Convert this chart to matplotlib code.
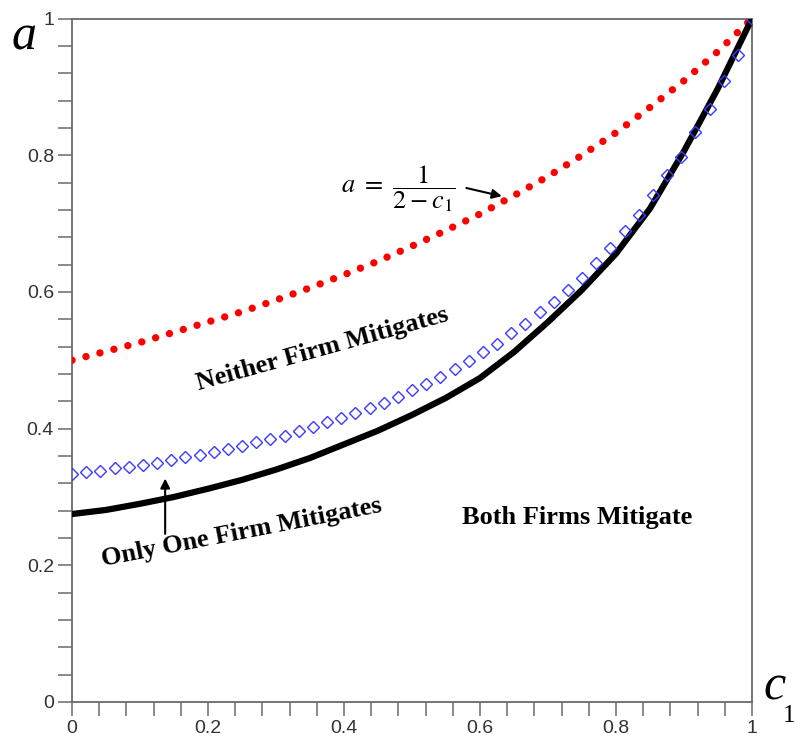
import matplotlib
matplotlib.use("Agg")
import matplotlib.pyplot as plt
import numpy as np
from matplotlib.ticker import MultipleLocator, FixedLocator

plt.rcParams['mathtext.fontset'] = 'stix'

# ---- data ----
c_red = [0.00, 0.05, 0.10, 0.15, 0.20, 0.25, 0.30, 0.35, 0.40, 0.45, 0.50,
         0.55, 0.60, 0.65, 0.70, 0.75, 0.80, 0.85, 0.90, 0.95, 1.00]
a_red = [0.500, 0.513, 0.526, 0.541, 0.556, 0.571, 0.588, 0.606, 0.625, 0.645, 0.667,
         0.690, 0.714, 0.741, 0.769, 0.800, 0.833, 0.870, 0.909, 0.952, 1.000]

c_black = [0.00, 0.05, 0.10, 0.15, 0.20, 0.25, 0.30, 0.35, 0.40, 0.45, 0.50,
           0.55, 0.60, 0.65, 0.70, 0.75, 0.80, 0.85, 0.90, 0.95, 1.00]
a_black = [0.275, 0.281, 0.290, 0.300, 0.312, 0.325, 0.340, 0.357, 0.377, 0.397, 0.420,
           0.445, 0.474, 0.512, 0.556, 0.603, 0.656, 0.722, 0.806, 0.898, 1.000]

c_blue = [i / 48 for i in range(49)]
a_blue = [0.333, 0.336, 0.338, 0.342, 0.344, 0.347, 0.350, 0.354, 0.358, 0.362,
          0.366, 0.370, 0.375, 0.380, 0.385, 0.389, 0.396, 0.402, 0.409, 0.416,
          0.423, 0.430, 0.437, 0.446, 0.456, 0.465, 0.476, 0.487, 0.499, 0.512,
          0.524, 0.540, 0.553, 0.570, 0.585, 0.603, 0.621, 0.642, 0.664, 0.689,
          0.713, 0.742, 0.771, 0.798, 0.834, 0.868, 0.908, 0.947, 1.000]

major_ticks = [0, 0.2, 0.4, 0.6, 0.8, 1]
tick_labels = ['0', '0.2', '0.4', '0.6', '0.8', '1']

W, H = 798, 755
fig = plt.figure(figsize=(W / 100, H / 100), dpi=100)
ax = fig.add_axes([72 / W, (H - 702) / H, 680 / W, (702 - 18.5) / H])

ax.plot(c_red, a_red, color='#ff0000', lw=5.3, linestyle=(0, (0.01, 1.95)),
        dash_capstyle='round', zorder=3)
ax.plot(c_black, a_black, color='black', lw=4.5, solid_capstyle='round', zorder=3)
ax.plot(c_blue, a_blue, linestyle='none', marker='D', ms=6, mfc='none',
        mec='#3a3aff', mew=1.0, zorder=4)

ax.set_xlim(0, 1)
ax.set_ylim(0, 1)

gray = '#6a6a6a'
for s in ax.spines.values():
    s.set_color(gray)
    s.set_linewidth(1.3)

ax.xaxis.set_major_locator(FixedLocator(major_ticks))
ax.yaxis.set_major_locator(FixedLocator(major_ticks))
ax.xaxis.set_minor_locator(MultipleLocator(0.04))
ax.yaxis.set_minor_locator(MultipleLocator(0.04))
ax.set_xticklabels(tick_labels)
ax.set_yticklabels(tick_labels)
ax.tick_params(which='both', direction='out', length=10, width=1.1, color=gray,
               top=False, right=False)
ax.tick_params(which='major', labelsize=14, labelcolor='#333333', pad=3)
for lab in ax.get_xticklabels() + ax.get_yticklabels():
    lab.set_family('Liberation Sans')

# axis labels
fig.text(24 / W, 1 - 50 / H, 'a', family='Liberation Serif', style='italic',
         fontsize=36, ha='center', va='baseline')
fig.text(775 / W, 1 - 700 / H, 'c', family='Liberation Serif', style='italic',
         fontsize=36, ha='center', va='baseline')
fig.text(789 / W, 1 - 722 / H, '1', family='Liberation Serif',
         fontsize=18, ha='center', va='baseline')

serif_b = dict(family='Liberation Serif', weight='bold', fontsize=19)
ax.text(0.369, 0.516, 'Neither Firm Mitigates', rotation=15.5,
        ha='center', va='center', rotation_mode='anchor', **serif_b)
ax.text(0.743, 0.270, 'Both Firms Mitigate', ha='center', va='center', **serif_b)
ax.text(0.249, 0.248, 'Only One Firm Mitigates', rotation=11,
        ha='center', va='center', rotation_mode='anchor', **serif_b)

# formula
ax.text(0.480, 0.751, r'$a\ =\ \dfrac{1}{2-c_{1}}$', fontsize=19,
        ha='center', va='center')

arrow = dict(arrowstyle='-|>', color='black', lw=1.5, mutation_scale=14,
             shrinkA=0, shrinkB=0)
ax.annotate('', xy=(0.137, 0.327), xytext=(0.137, 0.246), arrowprops=arrow)
ax.annotate('', xy=(0.632, 0.740), xytext=(0.580, 0.752), arrowprops=arrow)

fig.savefig('out.png', dpi=100)
